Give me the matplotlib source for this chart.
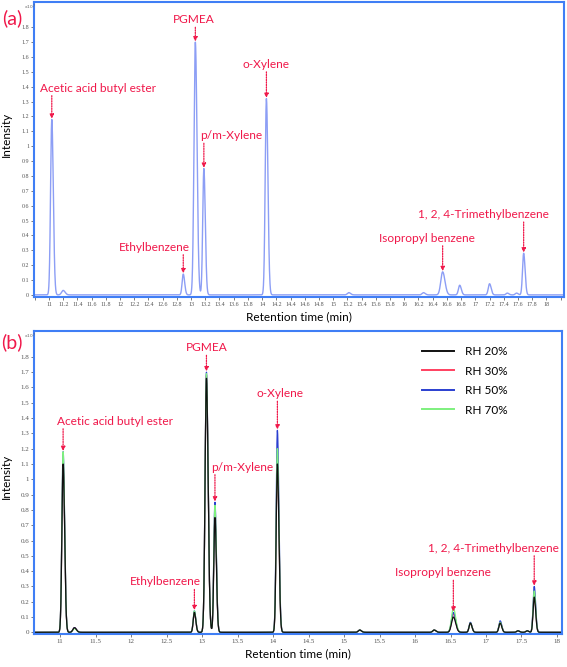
import numpy as np
import matplotlib.pyplot as plt

# peak table (retention time in min, intensity in 1e7)
peak_rt = [11.04, 11.20, 12.89, 13.06, 13.18, 14.06, 15.22, 16.27, 16.54, 16.78, 17.20, 17.45, 17.58, 17.68]
peak_sigma = [0.017, 0.022, 0.016, 0.019, 0.016, 0.017, 0.02, 0.02, 0.026, 0.018, 0.018, 0.018, 0.018, 0.016]

height_a = [1.18, 0.03, 0.14, 1.70, 0.85, 1.32, 0.015, 0.015, 0.155, 0.065, 0.075, 0.012, 0.012, 0.28]

rh_labels = ['RH 20%', 'RH 30%', 'RH 50%', 'RH 70%']
height_rh20 = [1.10, 0.03, 0.13, 1.66, 0.75, 1.10, 0.015, 0.015, 0.10, 0.06, 0.06, 0.01, 0.01, 0.23]
height_rh30 = [1.12, 0.03, 0.13, 1.68, 0.80, 1.15, 0.015, 0.015, 0.12, 0.06, 0.065, 0.01, 0.01, 0.26]
height_rh50 = [1.18, 0.03, 0.14, 1.70, 0.85, 1.32, 0.015, 0.015, 0.13, 0.065, 0.075, 0.01, 0.01, 0.30]
height_rh70 = [1.18, 0.025, 0.14, 1.69, 0.83, 1.20, 0.015, 0.015, 0.16, 0.06, 0.065, 0.01, 0.01, 0.27]

compounds = ['Acetic acid butyl ester', 'Ethylbenzene', 'PGMEA', 'p/m-Xylene',
             'o-Xylene', 'Isopropyl benzene', '1, 2, 4-Trimethylbenzene']
compound_peak = [0, 2, 3, 4, 5, 8, 13]

RED = '#f0184a'
BLUE = '#3f7ef5'


def trace(t, heights):
    y = np.zeros_like(t)
    for rt, s, h in zip(peak_rt, peak_sigma, heights):
        # slight tailing on the right side
        sig = np.where(t > rt, s * 1.25, s)
        y += h * np.exp(-0.5 * ((t - rt) / sig) ** 2)
    return y


def label_peaks(ax, heights, text_pos):
    for name, i, (tx, ty, ha) in zip(compounds, compound_peak, text_pos):
        ax.text(tx, ty, name, color=RED, fontsize=8.6, ha=ha, va='center', family='Lato')
        ax.annotate('', xy=(peak_rt[i], heights[i] + 0.005), xytext=(peak_rt[i], ty - 0.05),
                    arrowprops=dict(arrowstyle='-|>', color=RED, lw=0.9, ls=(0, (1, 1)),
                                    mutation_scale=6, shrinkA=0, shrinkB=0))


def style_axes(ax):
    for sp in ax.spines.values():
        sp.set_color(BLUE)
        sp.set_linewidth(1.5)
    ax.tick_params(axis='both', length=2, width=0.6, color='#666666', labelcolor='#555555', pad=1.5)
    for lab in ax.get_xticklabels() + ax.get_yticklabels():
        lab.set_family('Liberation Serif')
    ax.set_ylabel('Intensity', fontsize=8.5, family='Lato', labelpad=2)
    ax.set_xlabel('Retention time (min)', fontsize=8.5, family='Lato', labelpad=3)
    ax.text(0.004, 0.998, r'x10$^7$', transform=ax.transAxes, fontsize=3.2, color='#666666',
            ha='right', va='top')


fig = plt.figure(figsize=(5.67, 6.67), dpi=100)

# ---- (a)
ax1 = fig.add_axes([0.060, 0.555, 0.935, 0.442])
t1 = np.linspace(10.78, 18.25, 5000)
ax1.plot(t1, trace(t1, height_a), color='#8c9ef5', lw=1.0)
ax1.set_xlim(10.79, 18.25)
ax1.set_ylim(-0.013, 1.97)
xt = np.round(np.arange(10.8, 18.21, 0.2), 1)
ax1.set_xticks(xt)
ax1.set_xticklabels(['' if (v < 11 or v > 18) else ('%g' % v) for v in xt], fontsize=4.3)
yt = np.round(np.arange(0, 1.81, 0.1), 1)
ax1.set_yticks(yt)
ax1.set_yticklabels(['%g' % v for v in yt], fontsize=4.3)
style_axes(ax1)
ax1.yaxis.set_label_coords(-0.042, 0.55)
label_peaks(ax1, height_a, [(10.88, 1.39, 'left'), (12.48, 0.32, 'center'), (13.04, 1.85, 'center'),
                            (13.13, 1.07, 'left'), (14.06, 1.55, 'center'), (16.32, 0.38, 'center'),
                            (17.11, 0.54, 'center')])
fig.text(0.003, 0.972, '(a)', color=RED, fontsize=14, family='Lato', va='center')

# ---- (b)
ax2 = fig.add_axes([0.060, 0.049, 0.931, 0.455])
t2 = np.linspace(10.6, 18.1, 5000)
series = [height_rh20, height_rh30, height_rh50, height_rh70]
colors = ['#111111', '#ff4060', '#2a3fd0', '#7ef07e']
lines = {}
for k in [1, 2, 3, 0]:
    lines[k], = ax2.plot(t2, trace(t2, series[k]), color=colors[k], lw=0.9, label=rh_labels[k])
ax2.set_xlim(10.63, 18.07)
ax2.set_ylim(-0.013, 1.97)
xt2 = np.arange(11, 18.01, 0.5)
ax2.set_xticks(xt2)
ax2.set_xticklabels(['%g' % v for v in xt2], fontsize=5)
ax2.set_yticks(yt)
ax2.set_yticklabels(['%g' % v for v in yt], fontsize=5)
style_axes(ax2)
ax2.yaxis.set_label_coords(-0.042, 0.52)
label_peaks(ax2, height_rh50, [(10.95, 1.38, 'left'), (12.48, 0.33, 'center'), (13.06, 1.86, 'center'),
                               (13.13, 1.08, 'left'), (14.1, 1.56, 'center'), (16.39, 0.39, 'center'),
                               (17.1, 0.55, 'center')])
leg = ax2.legend([lines[k] for k in range(4)], rh_labels, loc='upper left', bbox_to_anchor=(0.735, 0.95),
                 frameon=False, handlelength=2.7, handletextpad=0.9, labelspacing=0.72,
                 borderaxespad=0, borderpad=0, prop={'family': 'Lato', 'size': 8.5})
for h in leg.get_lines():
    h.set_linewidth(1.4)
fig.text(0.002, 0.487, '(b)', color=RED, fontsize=14, family='Lato', va='center')

fig.savefig('out.png', dpi=100)
